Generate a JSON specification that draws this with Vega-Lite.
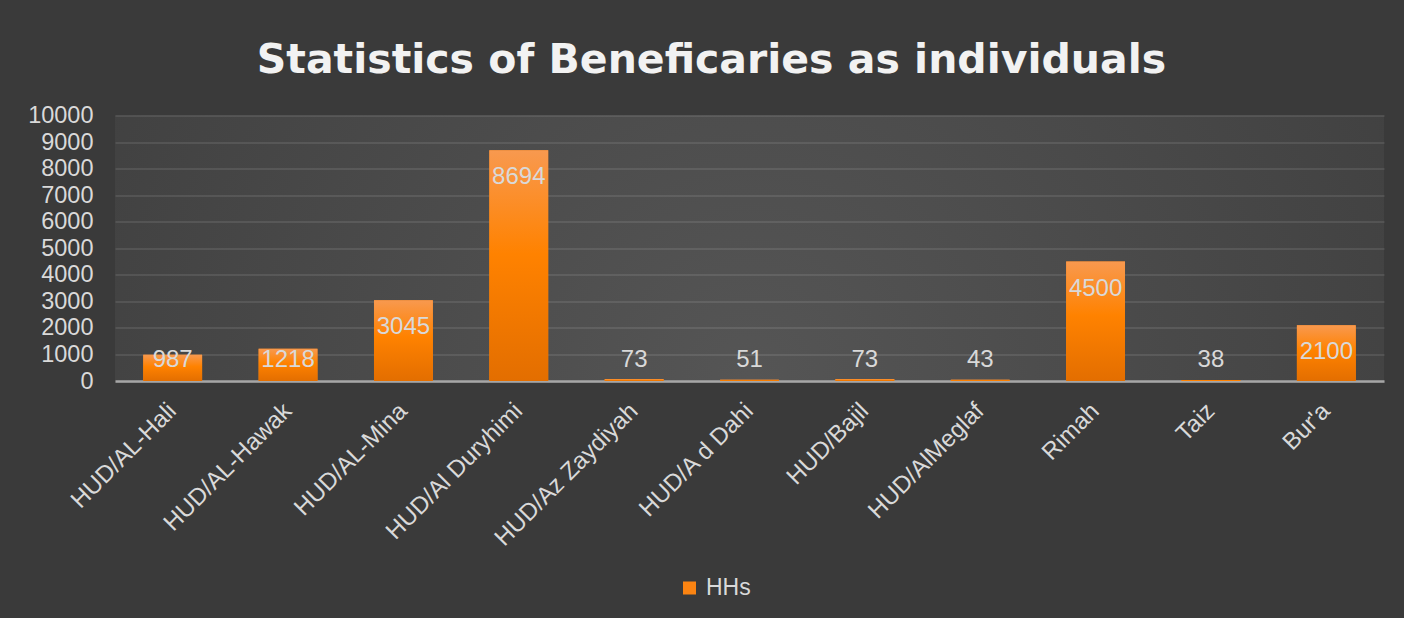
{
  "$schema": "https://vega.github.io/schema/vega-lite/v6.json",
  "width": 1269,
  "height": 265.5,
  "autosize": {"type": "none"},
  "padding": {"left": 115, "top": 115.5, "right": 20, "bottom": 237},
  "background": "#3a3a3a",
  "title": {
    "text": "Statistics of Beneficaries as individuals",
    "font": "DejaVu Sans",
    "fontWeight": "bold",
    "fontSize": 41,
    "color": "#f2f2f2",
    "anchor": "middle",
    "frame": "group",
    "dx": -38,
    "offset": 22
  },
  "data": {
    "values": [
      {"location": "HUD/AL-Hali", "value": 987, "series": "HHs"},
      {"location": "HUD/AL-Hawak", "value": 1218, "series": "HHs"},
      {"location": "HUD/AL-Mina", "value": 3045, "series": "HHs"},
      {"location": "HUD/Al Duryhimi", "value": 8694, "series": "HHs"},
      {"location": "HUD/Az Zaydiyah", "value": 73, "series": "HHs"},
      {"location": "HUD/A d Dahi", "value": 51, "series": "HHs"},
      {"location": "HUD/Bajil", "value": 73, "series": "HHs"},
      {"location": "HUD/AlMeglaf", "value": 43, "series": "HHs"},
      {"location": "Rimah", "value": 4500, "series": "HHs"},
      {"location": "Taiz", "value": 38, "series": "HHs"},
      {"location": "Bur'a", "value": 2100, "series": "HHs"}
    ]
  },
  "encoding": {
    "x": {
      "field": "location",
      "type": "nominal",
      "sort": null,
      "title": null,
      "scale": {"paddingInner": 0.49, "paddingOuter": 0.245},
      "axis": {
        "labelAngle": -45,
        "labelAlign": "right",
        "labelBaseline": "middle",
        "labelPadding": 26,
        "labelFont": "Liberation Sans",
        "labelFontSize": 24,
        "labelColor": "#d9d9d9",
        "labelLimit": 500,
        "ticks": false,
        "domainColor": "#a6a6a6",
        "domainWidth": 2.5,
        "grid": false,
        "labelOverlap": false
      }
    },
    "y": {
      "field": "value",
      "type": "quantitative",
      "title": null,
      "scale": {"domain": [0, 10000], "nice": false},
      "axis": {
        "values": [0, 1000, 2000, 3000, 4000, 5000, 6000, 7000, 8000, 9000, 10000],
        "format": "d"
      }
    }
  },
  "layer": [
    {
      "mark": {"type": "bar"},
      "encoding": {
        "color": {
          "field": "series",
          "type": "nominal",
          "title": null,
          "scale": {"range": ["#fb8412"]},
          "legend": {
            "orient": "none",
            "legendX": 563,
            "legendY": 461,
            "symbolType": "square",
            "symbolSize": 169,
            "symbolStrokeWidth": 0,
            "labelFont": "Liberation Sans",
            "labelFontSize": 23,
            "labelColor": "#d9d9d9",
            "labelOffset": 5
          }
        }
      }
    },
    {
      "mark": {
        "type": "bar",
        "fill": {
          "gradient": "linear",
          "x1": 0, "y1": 0, "x2": 0, "y2": 1,
          "stops": [
            {"offset": 0, "color": "#f8994f"},
            {"offset": 0.45, "color": "#ff8200"},
            {"offset": 1, "color": "#e36e00"}
          ]
        }
      }
    },
    {
      "transform": [{"filter": "datum.value >= 2000"}],
      "mark": {
        "type": "text",
        "baseline": "top",
        "dy": 15,
        "font": "Liberation Sans",
        "fontSize": 24,
        "color": "#d9d9d9"
      },
      "encoding": {
        "text": {"field": "value", "type": "quantitative"}
      }
    },
    {
      "transform": [{"filter": "datum.value < 2000"}],
      "mark": {
        "type": "text",
        "baseline": "top",
        "dy": 15,
        "y": {"expr": "scale('y', 1810)"},
        "font": "Liberation Sans",
        "fontSize": 24,
        "color": "#d9d9d9"
      },
      "encoding": {
        "y": null,
        "text": {"field": "value", "type": "quantitative"}
      }
    }
  ],
  "config": {
    "axisY": {
      "labelFont": "Liberation Sans",
      "labelFontSize": 23.5,
      "labelColor": "#d9d9d9",
      "labelPadding": 22,
      "labelOverlap": false,
      "ticks": false,
      "domain": false,
      "grid": true,
      "gridColor": "#ffffff",
      "gridOpacity": 0.13,
      "gridWidth": 1.5
    },
    "view": {
      "stroke": null,
      "fill": {
        "gradient": "radial",
        "x1": 0.5, "y1": 0.6, "x2": 0.5, "y2": 0.6,
        "r1": 0, "r2": 0.75,
        "stops": [
          {"offset": 0, "color": "#555555"},
          {"offset": 1, "color": "#3a3a3a"}
        ]
      }
    }
  }
}
